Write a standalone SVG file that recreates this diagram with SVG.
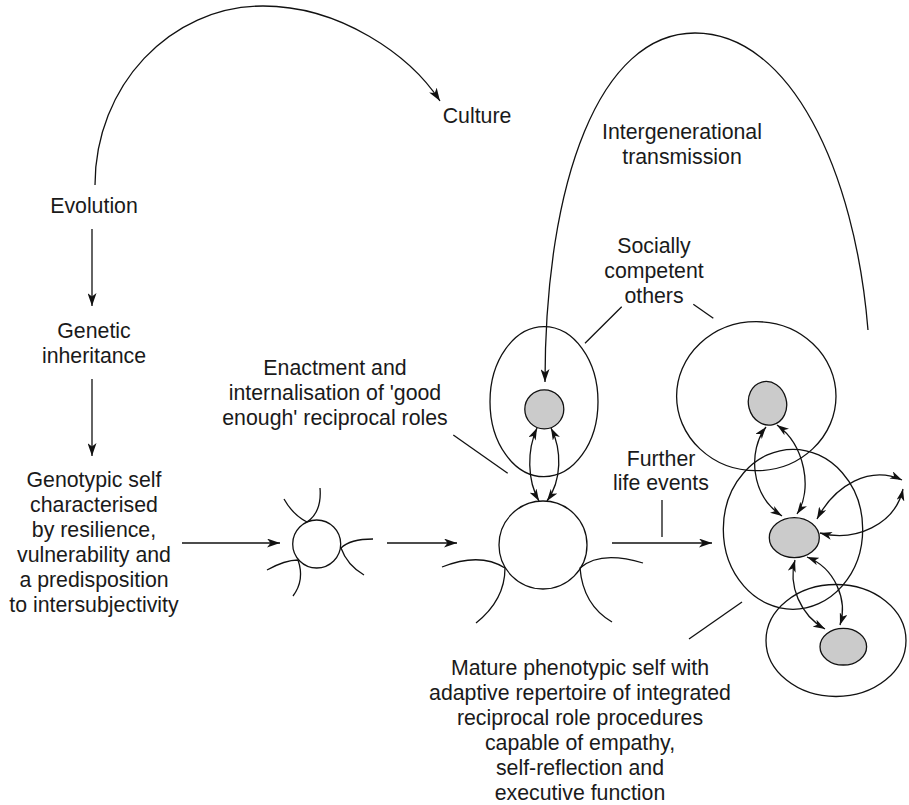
<svg xmlns="http://www.w3.org/2000/svg" width="909" height="805" viewBox="0 0 909 805">
<style>
text{font-family:"Liberation Sans",Arial,Helvetica,sans-serif;font-size:21.3px;fill:#1a1a1a;text-anchor:middle}
.ln{fill:none;stroke:#111;stroke-width:1.3}
.ring{fill:none;stroke:#111;stroke-width:1.3}
.grey{fill:#cbcbcb;stroke:#111;stroke-width:1.3}
.arr{marker-end:url(#ah)}
.dbl{marker-start:url(#ahs);marker-end:url(#ahs)}
</style>
<defs>
<marker id="ah" viewBox="0 0 13 9" refX="13" refY="4.5" markerWidth="13" markerHeight="9" orient="auto-start-reverse" markerUnits="userSpaceOnUse"><path d="M0,0 L13,4.5 L0,9 L3.5,4.5 z" fill="#111"/></marker>
<marker id="ahs" viewBox="0 0 12 8" refX="12" refY="4" markerWidth="12" markerHeight="8" orient="auto-start-reverse" markerUnits="userSpaceOnUse"><path d="M0,0 L12,4 L0,8 L3.2,4 z" fill="#111"/></marker>
</defs>
<rect width="909" height="805" fill="#fff"/>

<g id="evolution"><text x="94" y="213">Evolution</text></g>
<g id="culture"><text x="477" y="123">Culture</text></g>
<g id="intergenerational-label"><text x="682" y="139">Intergenerational</text><text x="682" y="164">transmission</text></g>
<g id="genetic"><text x="94" y="338">Genetic</text><text x="94" y="363">inheritance</text></g>
<g id="genotypic-self">
<text x="94" y="487">Genotypic self</text>
<text x="94" y="512">characterised</text>
<text x="94" y="537">by resilience,</text>
<text x="94" y="562">vulnerability and</text>
<text x="94" y="587">a predisposition</text>
<text x="94" y="612">to intersubjectivity</text>
</g>
<g id="socially-label"><text x="654" y="253">Socially</text><text x="654" y="278">competent</text><text x="654" y="303">others</text></g>
<g id="enactment-label"><text x="335" y="375">Enactment and</text><text x="335" y="400">internalisation of 'good</text><text x="335" y="425">enough' reciprocal roles</text></g>
<g id="further-label"><text x="661" y="466">Further</text><text x="661" y="490">life events</text></g>
<g id="mature-label">
<text x="580" y="675">Mature phenotypic self with</text>
<text x="580" y="700">adaptive repertoire of integrated</text>
<text x="580" y="725">reciprocal role procedures</text>
<text x="580" y="750">capable of empathy,</text>
<text x="580" y="775">self-reflection and</text>
<text x="580" y="800">executive function</text>
</g>

<g id="infant-self">
<circle class="ring" cx="316.7" cy="544" r="24"/>
<path class="ln" d="M284 499 Q293 515 307 522 Q322 512 320 488"/>
<path class="ln" d="M373 539 Q350 539 341 548 Q347 565 364 575"/>
<path class="ln" d="M267 570 Q285 560 298 560 Q305 580 293 596"/>
</g>

<g id="child-self">
<circle class="ring" cx="543" cy="545" r="44"/>
<path class="ln" d="M442 567 Q480 552 505 568 Q505 600 476 623"/>
<path class="ln" d="M643 563 Q600 550 580 568 Q583 605 612 622"/>
</g>

<g id="other-middle">
<ellipse class="ring" cx="544" cy="401.7" rx="54" ry="75"/>
<circle class="grey" cx="544.3" cy="409.3" r="19.5"/>
</g>

<g id="other-upper-right">
<ellipse class="ring" cx="756.3" cy="396.2" rx="79.7" ry="74.5"/>
<ellipse class="grey" cx="767.5" cy="403.3" rx="19" ry="22" transform="rotate(-15 767.5 403.3)"/>
</g>

<g id="mature-self">
<ellipse class="ring" cx="793" cy="529.3" rx="69.7" ry="80"/>
<ellipse class="grey" cx="794.3" cy="537.7" rx="25" ry="20"/>
</g>

<g id="other-lower-right">
<ellipse class="ring" cx="836" cy="640.5" rx="70" ry="56"/>
<ellipse class="grey" cx="843.3" cy="646.7" rx="23.3" ry="18.3"/>
</g>

<g id="connectors">
<path class="ln arr" d="M95 185 C95 86 170 6 263 6 C340 6 410 55 440 101"/>
<path class="ln arr" d="M92 229 L92 306"/>
<path class="ln arr" d="M92 379 L92 456"/>
<path class="ln arr" d="M182 543 L280 543"/>
<path class="ln arr" d="M387 543 L457 543"/>
<path class="ln arr" d="M612 543 L712 543"/>
<path class="ln" d="M662 500 L662 537"/>
<path class="ln arr" d="M868 330 C855 170 790 33 695 33 C600 33 545 180 545 382"/>
<path class="ln" d="M621.7 306.7 L585 343.3"/>
<path class="ln" d="M693.3 304.3 L713.3 318.3"/>
<path class="ln" d="M453.3 435 L507.7 473.3"/>
<path class="ln" d="M742 602 L689 639"/>
<path class="ln dbl" d="M537 428 C527 450 527 480 539 501"/>
<path class="ln dbl" d="M551 428 C562 450 562 480 547 501"/>
<path class="ln dbl" d="M766 427 C748 450 750 495 782 516"/>
<path class="ln dbl" d="M777 425 C805 445 813 490 797 514"/>
<path class="ln dbl" d="M817 519 C835 485 870 465 902 480"/>
<path class="ln dbl" d="M820 533 C855 542 895 525 903 489"/>
<path class="ln dbl" d="M795 560 C788 585 800 615 825 629"/>
<path class="ln dbl" d="M807 557 C835 568 848 600 840 625"/>
</g>
</svg>
